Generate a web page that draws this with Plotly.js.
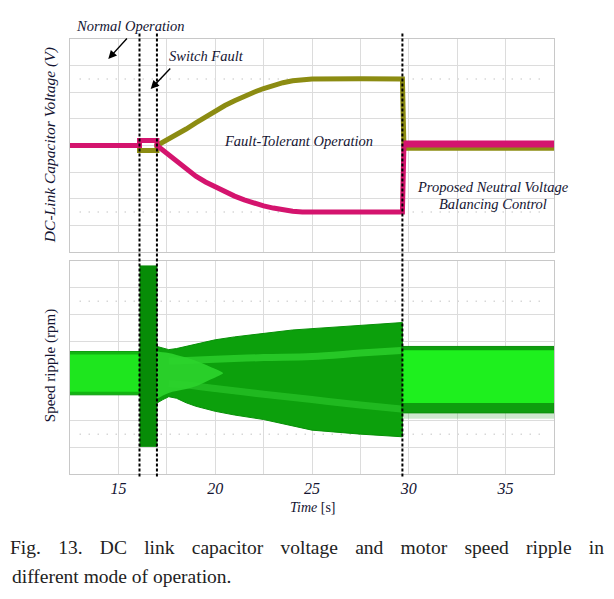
<!DOCTYPE html>
<html><head><meta charset="utf-8">
<script src="https://cdn.plot.ly/plotly-3.0.1.min.js"></script>
<style>html,body{margin:0;padding:0;background:#fff}#chart{width:614px;height:599px}</style>
</head><body><div id="chart"></div>
<script>
// ---- Top panel: DC-link capacitor voltages (in graticule divisions) ----
const vTime    = [12.5, 16.09, 16.09, 16.99, 16.99, 17.5, 18, 18.5, 19, 19.5, 20, 20.5, 21, 21.5, 22, 22.5, 23, 23.5, 24, 24.5, 25, 27.5, 29.67, 29.75];
const vOlive   = [0, 0, -0.19, -0.19, 0, 0.2, 0.4, 0.62, 0.85, 1.08, 1.3, 1.5, 1.68, 1.86, 2.0, 2.14, 2.26, 2.36, 2.43, 2.48, 2.5, 2.51, 2.5, -0.1];
const vMagenta = [0, 0, 0.19, 0.19, 0, -0.3, -0.6, -0.9, -1.15, -1.37, -1.56, -1.75, -1.9, -2.04, -2.16, -2.27, -2.35, -2.42, -2.47, -2.5, -2.5, -2.5, -2.5, 0.06];
const balTime    = [29.72, 37.5];
const balOlive   = [-0.1, -0.1];
const balMagenta = [0.06, 0.06];

// ---- Bottom panel: speed ripple envelopes (divisions) ----
const normTime  = [12.5, 16.09];
const normUpper = [0.61, 0.61];
const normLower = [-1.02, -1.02];
const normCoreUpper = [0.5, 0.5];
const normCoreLower = [-0.9, -0.9];

const faultTime  = [16.09, 16.99];
const faultUpper = [3.83, 3.83];
const faultLower = [-2.96, -2.96];

const ftTime  = [16.99, 17.3, 17.6, 18.0, 18.5, 19.0, 20, 21, 22.5, 24, 25, 27.5, 29.67];
const ftUpper = [0.8, 0.75, 0.68, 0.72, 0.8, 0.88, 1.05, 1.16, 1.3, 1.42, 1.47, 1.6, 1.7];
const ftLower = [-1.33, -1.2, -1.09, -1.15, -1.32, -1.45, -1.64, -1.78, -1.95, -2.2, -2.35, -2.5, -2.6];

const neckTime  = [16.99, 17.3, 17.6, 18.0, 18.5, 19.0, 19.6, 20.4];
const neckUpper = [0.62, 0.58, 0.55, 0.48, 0.38, 0.26, 0.08, -0.2];
const neckLower = [-1.18, -1.05, -0.95, -0.88, -0.8, -0.7, -0.5, -0.22];

const lightTime  = [17.6, 18.5, 20, 22.5, 25, 27.5, 29.6];
const lightUpper = [0.25, 0.27, 0.32, 0.38, 0.42, 0.55, 0.65];
const lightLower = [-0.6, -0.65, -0.78, -1.0, -1.2, -1.4, -1.55];

const balRippleTime  = [29.67, 37.5];
const balSpikeLower  = [-1.92, -1.92];
const balRippleUpper = [0.8, 0.8];
const balRippleLower = [-1.7, -1.7];
const balCoreUpper   = [0.66, 0.66];
const balCoreLower   = [-1.33, -1.33];

const eventTimes = [16.09, 16.99, 29.67];
const triggerTime = [23.57];
const xTickVals = [12.5, 15, 17.5, 20, 22.5, 25, 27.5, 30, 32.5, 35, 37.5];
const xTickText = ['', '15', '', '20', '', '25', '', '30', '', '35', ''];
const captionLines = ['Fig. 13. DC link capacitor voltage and motor speed ripple in', 'different mode of operation.'];

function band(t, up, lo, color, lineColor, lw, shape) {
  return {
    x: t.concat(t.slice().reverse()),
    y: up.concat(lo.slice().reverse()),
    xaxis: 'x', yaxis: 'y2', type: 'scatter', mode: 'lines',
    fill: 'toself', fillcolor: color,
    line: {color: lineColor || color, width: lw || 0, shape: shape || 'linear'},
    hoverinfo: 'skip', showlegend: false
  };
}

const traces = [
  band(normTime, normUpper, normLower, '#12b412', '#0e9e0e', 1),
  band(normTime, normCoreUpper, normCoreLower, '#1ee61e'),
  band(faultTime, faultUpper, faultLower, '#078c07', '#078c07', 1),
  band(ftTime, ftUpper, ftLower, '#0ca00c', '#089008', 1),
  {x: lightTime, y: lightUpper, xaxis: 'x', yaxis: 'y2', mode: 'lines', line: {color: 'rgba(50,215,50,0.7)', width: 7, shape: 'spline'}, hoverinfo: 'skip', showlegend: false},
  {x: lightTime, y: lightLower, xaxis: 'x', yaxis: 'y2', mode: 'lines', line: {color: 'rgba(50,205,50,0.55)', width: 7, shape: 'spline'}, hoverinfo: 'skip', showlegend: false},
  band(neckTime, neckUpper, neckLower, 'rgba(44,212,44,0.9)', null, 0, 'spline'),
  band(balRippleTime, balRippleLower, balSpikeLower, 'rgba(90,180,90,0.3)'),
  band(balRippleTime, balRippleUpper, balRippleLower, '#0e9e0e', '#0a900a', 1),
  band(balRippleTime, balCoreUpper, balCoreLower, '#1ef01e'),
  {x: vTime, y: vOlive, xaxis: 'x2', yaxis: 'y', mode: 'lines', line: {color: '#8c8c12', width: 5}, hoverinfo: 'skip', showlegend: false},
  {x: balTime, y: balOlive, xaxis: 'x2', yaxis: 'y', mode: 'lines', line: {color: '#8c8c12', width: 5}, hoverinfo: 'skip', showlegend: false},
  {x: vTime, y: vMagenta, xaxis: 'x2', yaxis: 'y', mode: 'lines', line: {color: '#d4146e', width: 5}, hoverinfo: 'skip', showlegend: false},
  {x: balTime, y: balMagenta, xaxis: 'x2', yaxis: 'y', mode: 'lines', line: {color: '#d4146e', width: 7}, hoverinfo: 'skip', showlegend: false},
  {x: triggerTime, y: [-4.15], xaxis: 'x2', yaxis: 'y', mode: 'markers', cliponaxis: false, marker: {symbol: 'triangle-up', size: 5, color: '#d4146e'}, hoverinfo: 'skip', showlegend: false},
  {x: triggerTime, y: [-4.15], xaxis: 'x', yaxis: 'y2', mode: 'markers', cliponaxis: false, marker: {symbol: 'circle', size: 3, color: '#5ec85e'}, hoverinfo: 'skip', showlegend: false}
];

const serif = 'Liberation Serif, Times New Roman, serif';
const gridC = '#dcdcdc';
const axBase = {range: [-4, 4], dtick: 1, tick0: 0, showticklabels: false, showgrid: true, gridcolor: gridC, gridwidth: 1, zeroline: false, showline: true, linecolor: '#c8c8c8', mirror: true, ticks: '', fixedrange: true};

const shapes = [];
eventTimes.forEach(t => shapes.push({type: 'line', xref: 'x', yref: 'paper', x0: t, x1: t, y0: -0.006, y1: 1.0145, line: {color: '#000', width: 2, dash: '3px,2px'}}));
[['y', 2.5], ['y', -2.5], ['y2', 2.5], ['y2', -2.5]].forEach(([ax, v]) => shapes.push({type: 'line', xref: 'paper', yref: ax, x0: 0.02, x1: 0.98, y0: v, y1: v, line: {color: '#c4c4c4', width: 1.5, dash: '1px,8px'}, layer: 'below'}));

const ann = (text, x, y, size, extra) => Object.assign({text: text, xref: 'paper', yref: 'paper', x: x, y: y, showarrow: false, xanchor: 'center', yanchor: 'middle', font: {family: serif, size: size, color: '#141432'}}, extra || {});

const annotations = [
  ann('<i>Normal Operation</i>', 0.124, 1.0306, 14.5),
  ann('<i>Switch Fault</i>', 0.281, 0.962, 14.5),
  ann('<i>Fault-Tolerant Operation</i>', 0.472, 0.7646, 14.5),
  ann('<i>Proposed Neutral Voltage</i>', 0.873, 0.6598, 14.5),
  ann('<i>Balancing Control</i>', 0.873, 0.6214, 14.5),
  ann('', 0.0791, 0.954, 12, {showarrow: true, ax: 20, ay: -22, arrowhead: 2, arrowsize: 1.2, arrowwidth: 1.4, arrowcolor: '#000'}),
  ann('', 0.1667, 0.885, 12, {showarrow: true, ax: 21, ay: -22, arrowhead: 2, arrowsize: 1.2, arrowwidth: 1.4, arrowcolor: '#000'}),
  ann('<i>DC-Link Capacitor Voltage (V)</i>', -0.0413, 0.756, 15.5, {textangle: -90}),
  ann('Speed ripple (rpm)', -0.0413, 0.248, 15, {textangle: -90}),
  ann('<i>Time</i> [s]', 0.502, -0.0775, 14),
  ann(captionLines[0], -0.124, -0.1694, 19.5, {xanchor: 'left', font: {family: serif, size: 19.5, color: '#222'}}),
  ann(captionLines[1], -0.124, -0.236, 19.5, {xanchor: 'left', font: {family: serif, size: 19.5, color: '#222'}})
];

const layout = {
  width: 614, height: 599,
  margin: {l: 70, r: 60, t: 39, b: 125},
  paper_bgcolor: '#fff', plot_bgcolor: '#fff',
  showlegend: false,
  font: {family: serif},
  xaxis: {domain: [0, 1], anchor: 'y2', range: [12.5, 37.5], tickmode: 'array', tickvals: xTickVals, ticktext: xTickText.map(s => s ? '<i>' + s + '</i>' : ''), showgrid: true, gridcolor: gridC, zeroline: false, showline: true, linecolor: '#c8c8c8', mirror: true, ticks: '', tickfont: {family: serif, size: 16, color: '#141432'}, fixedrange: true},
  xaxis2: {domain: [0, 1], anchor: 'y', matches: 'x', range: [12.5, 37.5], tickmode: 'array', tickvals: xTickVals, showticklabels: false, showgrid: true, gridcolor: gridC, zeroline: false, showline: true, linecolor: '#c8c8c8', mirror: true, ticks: '', fixedrange: true},
  yaxis: Object.assign({}, axBase, {domain: [0.5103, 1], anchor: 'x2'}),
  yaxis2: Object.assign({}, axBase, {domain: [0, 0.4887], anchor: 'x'}),
  shapes: shapes,
  annotations: annotations
};

Plotly.newPlot('chart', traces, layout, {staticPlot: true, displayModeBar: false}).then(gd => {
  // justify the first caption line between x=10 and x=604 (SVG word-spacing), like the printed caption
  gd.querySelectorAll('.annotation-text').forEach(t => {
    if (t.textContent === captionLines[0]) {
      const len = t.getComputedTextLength();
      const spaces = (captionLines[0].match(/ /g) || []).length;
      const extra = (594 - len) / spaces;
      if (extra > 0) t.style.wordSpacing = extra + 'px';
      const host = gd.getBoundingClientRect();
      const r = t.getBoundingClientRect();
      const dx = 10 - (r.left - host.left);
      t.setAttribute('x', (parseFloat(t.getAttribute('x')) || 0) + dx);
    }
  });
});
</script></body></html>
